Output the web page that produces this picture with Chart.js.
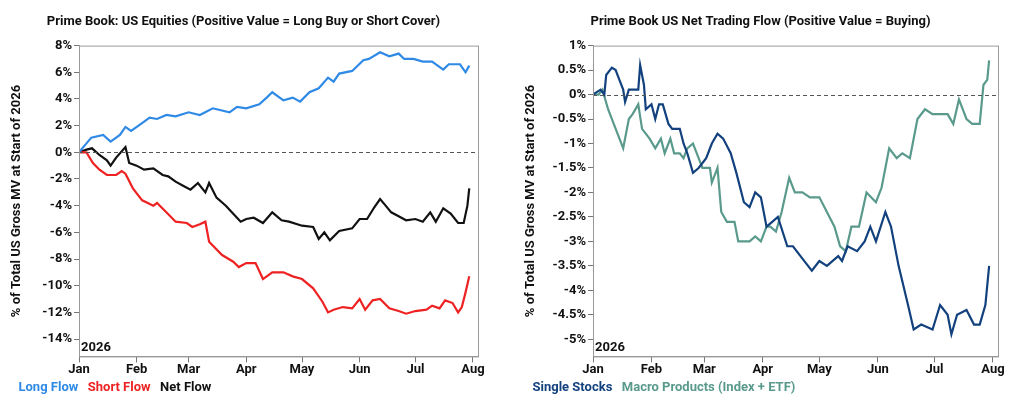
<!DOCTYPE html><html><head><meta charset="utf-8">
<script src="https://cdn.jsdelivr.net/npm/chart.js@4"></script>
<style>body{margin:0;background:#fff;width:1024px;height:404px;overflow:hidden;font-family:Roboto}
.w{position:absolute;top:0;height:404px}</style></head><body>
<div class="w" style="left:0;width:500px"><canvas id="c1"></canvas></div>
<div class="w" style="left:512px;width:512px"><canvas id="c2"></canvas></div>
<script>
const monthDays=[0,31,59,90,120,151,181,212];
const monthLabels=['Jan','Feb','Mar','Apr','May','Jun','Jul','Aug'];
const longDays=[0,3,6.6,13,17,22,25,28,33,38,42,47,52,59,65,72,81,85,90,97,101,104,110,115,119,124,129,134,137,140,147,153,156,162,167,172,175,180,185,190,196,199,205,208,210];
const longFlow=[0,0.5,1.1,1.3,0.8,1.3,1.9,1.6,2.1,2.6,2.5,2.8,2.7,3.0,2.8,3.3,3.0,3.4,3.3,3.6,4.1,4.5,3.9,4.1,3.8,4.5,4.8,5.6,5.3,5.9,6.1,6.9,7.0,7.5,7.2,7.4,7.0,7.0,6.8,6.8,6.2,6.6,6.6,6.0,6.5];
const shortDays=[0,4,7.5,11,15,20,23,25,29,34,40,42,47,52,58,61,65,68,70,77,83,86,90,95,99,104,110,115,120,126,131,134,137,142,147,151,154,158,162,167,172,176,181,187,190,194,197,201,204,206,208,210];
const shortFlow=[0,0,-0.8,-1.3,-1.7,-1.7,-1.4,-1.6,-2.7,-3.6,-4.0,-3.8,-4.5,-5.2,-5.3,-5.6,-5.4,-5.2,-6.7,-7.7,-8.2,-8.6,-8.3,-8.3,-9.5,-9.0,-9.0,-9.3,-9.5,-10.2,-11.2,-12.0,-11.8,-11.6,-11.7,-11.0,-11.8,-11.1,-11.0,-11.7,-11.9,-12.1,-11.9,-11.8,-11.5,-11.7,-11.1,-11.3,-12.0,-11.6,-10.5,-9.3];
const netDays=[0,4,7,11,15,17,20,25,27,31,35,40,45,48,52,56,60,64,68,70,74,79,83,87,90,94,99,104,109,113,120,126,129,132,135,140,147,151,155,159,162,165,168,172,176,181,185,189,192,196,200,204,207,209,210];
const netFlow=[0,0.2,0.3,-0.2,-0.6,-1.0,-0.4,0.4,-0.8,-1.0,-1.3,-1.2,-1.7,-1.8,-2.2,-2.5,-2.8,-2.3,-3.0,-2.3,-3.4,-4.0,-4.6,-5.2,-5.0,-4.9,-5.3,-4.5,-5.1,-5.2,-5.5,-5.6,-6.5,-6.0,-6.6,-5.9,-5.7,-5.0,-5.0,-4.1,-3.5,-4.0,-4.5,-4.8,-5.1,-5.0,-5.2,-4.5,-5.2,-4.2,-4.6,-5.3,-5.3,-4.0,-2.7];
const ssDays=[0,4,6,7,10,12,14,16,17,19,22,24,25,27,28,31,33,35,37,40,42,46,48,50,53,56,60,63,66,69,73,76,80,83,86,89,92,95,98,103,106,110,114,116,120,124,130,132,135,140,144,147,150,155,158,162,167,170,174,180,184,188,190,193,198,202,205,208,210];
const singleStocks=[0,0.1,0,0.4,0.55,0.5,0.3,0.1,-0.15,0.1,0.1,0.1,0.6,0.2,-0.3,-0.2,-0.5,-0.2,-0.2,-0.6,-0.7,-0.7,-1.0,-1.2,-1.6,-1.5,-1.3,-1.0,-0.8,-0.9,-1.2,-1.6,-2.2,-2.3,-2.0,-2.1,-2.7,-2.6,-2.5,-3.1,-3.1,-3.3,-3.5,-3.6,-3.4,-3.5,-3.3,-3.4,-3.1,-3.2,-3.0,-2.7,-3.0,-2.4,-2.7,-3.5,-4.3,-4.8,-4.7,-4.8,-4.3,-4.5,-4.9,-4.5,-4.4,-4.7,-4.7,-4.3,-3.5];
const mpDays=[0,3,5,8,11,13,16,19,21,24,26,30,33,36,38,41,43,46,48,50,53,56,58,62,63,66,68,71,75,77,80,83,86,89,92,94,97,100,104,107,111,115,120,124,128,131,134,137,141,145,150,153,157,161,164,168,172,176,180,184,188,191,194,198,201,205,207,209,210];
const macroProducts=[0,0,0.1,-0.3,-0.6,-0.8,-1.1,-0.5,-0.4,-0.2,-0.7,-0.9,-1.1,-0.9,-1.2,-0.9,-1.2,-1.2,-1.3,-1.1,-1.0,-1.3,-1.5,-1.5,-1.8,-1.5,-2.4,-2.6,-2.6,-3.0,-3.0,-3.0,-2.9,-3.0,-2.7,-2.7,-2.8,-2.4,-1.7,-2.0,-2.0,-2.1,-2.1,-2.4,-2.7,-3.1,-3.2,-2.7,-2.7,-2.0,-2.2,-1.9,-1.1,-1.3,-1.2,-1.3,-0.5,-0.3,-0.4,-0.4,-0.4,-0.6,-0.1,-0.5,-0.6,-0.6,0.2,0.3,0.7];
const leftTicks=[8,6,4,2,0,-2,-4,-6,-8,-10,-12,-14];
const rightTicks=[1,0.5,0,-0.5,-1,-1.5,-2,-2.5,-3,-3.5,-4,-4.5,-5];

const pts=(d,v)=>d.map((x,i)=>({x,y:v[i]}));
const F='Roboto';
const deco={id:'deco',afterDatasetsDraw(c){const{ctx,chartArea:a,scales:{y}}=c;ctx.save();
 ctx.strokeStyle='#555';ctx.lineWidth=1;ctx.setLineDash([4,3]);const py=Math.round(y.getPixelForValue(0))+.5;
 ctx.beginPath();ctx.moveTo(a.left,py);ctx.lineTo(a.right,py);ctx.stroke();ctx.setLineDash([]);
 ctx.strokeStyle='#999';ctx.strokeRect(a.left+.5,a.top+.5,a.width,a.height);
 ctx.fillStyle='#111';ctx.font='bold 13px '+F;ctx.textBaseline='bottom';ctx.fillText('2026',a.left+2,a.bottom-2);ctx.restore();}};
function make(id,title,sets,ymin,ymax,yt,fmt,padL,padR){
 new Chart(document.getElementById(id),{type:'line',
  data:{datasets:sets.map(s=>({label:s.l,data:s.d,borderColor:s.c,borderWidth:2.2,pointRadius:0,tension:0}))},
  options:{responsive:false,animation:false,devicePixelRatio:1,
   layout:{padding:{left:padL,right:padR,top:0,bottom:0}},
   plugins:{title:{display:true,text:title,color:'#111',font:{family:F,size:13,weight:'bold'},padding:{top:14,bottom:16}},
    legend:{position:'bottom',align:'start',labels:{boxWidth:0,boxHeight:0,padding:3,font:{family:F,size:13,weight:'bold'},
     generateLabels:c=>c.data.datasets.map((d,i)=>({text:d.label,fontColor:d.borderColor,fillStyle:'transparent',strokeStyle:'transparent',lineWidth:0,datasetIndex:i}))}},
    tooltip:{enabled:false}},
   scales:{x:{type:'linear',min:0,max:214.7,afterBuildTicks:s=>{s.ticks=monthDays.map(v=>({value:v}))},
     ticks:{callback:v=>monthLabels[monthDays.indexOf(v)],color:'#111',font:{family:F,size:13,weight:'bold'},maxRotation:0,autoSkip:false,padding:0},
     grid:{drawOnChartArea:false,tickLength:6,color:'#777'},border:{color:'#999'}},
    y:{min:ymin,max:ymax,afterBuildTicks:s=>{s.ticks=yt.map(v=>({value:v}))},afterFit:s=>{s.width=70},
     ticks:{callback:fmt,color:'#111',font:{family:F,size:13,weight:'bold'},autoSkip:false,padding:2},
     title:{display:true,text:'% of Total US Gross MV at Start of 2026',color:'#111',font:{family:F,size:13,weight:'bold'},padding:0},
     grid:{drawOnChartArea:false,tickLength:5,color:'#777'},border:{color:'#999'}}}},
  plugins:[deco]});}
const c1=document.getElementById('c1');c1.width=500;c1.height=404;
const c2=document.getElementById('c2');c2.width=512;c2.height=404;
make('c1','Prime Book: US Equities (Positive Value = Long Buy or Short Cover)',
 [{l:'Long Flow',d:pts(longDays,longFlow),c:'#2f8ae6'},{l:'Short Flow',d:pts(shortDays,shortFlow),c:'#ee2222'},{l:'Net Flow',d:pts(netDays,netFlow),c:'#111111'}],
 -15.3,8,leftTicks,v=>v+'%',9,22);
make('c2','Prime Book US Net Trading Flow (Positive Value = Buying)',
 [{l:'Single Stocks',d:pts(ssDays,singleStocks),c:'#12417e'},{l:'Macro Products (Index + ETF)',d:pts(mpDays,macroProducts),c:'#5a9a8c'}],
 -5.35,1,rightTicks,v=>v+'%',11,26);
</script></body></html>
